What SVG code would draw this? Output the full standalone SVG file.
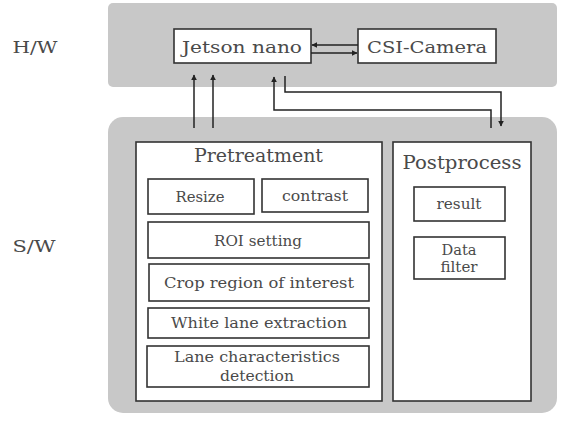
<svg xmlns="http://www.w3.org/2000/svg" width="563" height="423" viewBox="0 0 563 423">
<defs>
<style>
.bg{fill:#c8c8c8;stroke:none}
.box{fill:#ffffff;stroke:#333333;stroke-width:1.6}
.t{font-family:"DejaVu Serif","Liberation Serif",serif;fill:#4a4a4a;text-anchor:middle}
.lbl{font-size:17px}
.big{font-size:18px}
.sm{font-size:14px}
.ln{fill:none;stroke:#222222;stroke-width:1.5}
</style>
<marker id="ah" viewBox="0 0 10 10" refX="9" refY="5" markerWidth="6" markerHeight="6" markerUnits="userSpaceOnUse" orient="auto">
<path d="M0,0 L10,5 L0,10 z" fill="#222222"/>
</marker>
</defs>
<rect width="563" height="423" fill="#ffffff"/>
<text class="t lbl" x="35" y="53" textLength="45" lengthAdjust="spacingAndGlyphs">H/W</text>
<text class="t lbl" x="34" y="252" textLength="43" lengthAdjust="spacingAndGlyphs">S/W</text>
<g id="hw">
<rect class="bg" x="108" y="3" width="449" height="84" rx="5"/>
</g>
<g id="sw">
<rect class="bg" x="108" y="117" width="449" height="296" rx="15"/>
</g>
<g id="jetson">
<rect class="box" x="174" y="29" width="137" height="34"/>
<text class="t lbl" x="242" y="53" textLength="120" lengthAdjust="spacingAndGlyphs">Jetson nano</text>
</g>
<g id="csi">
<rect class="box" x="358" y="29" width="138" height="34"/>
<text class="t lbl" x="427" y="53" textLength="120" lengthAdjust="spacingAndGlyphs">CSI-Camera</text>
</g>
<g id="pretreatment">
<rect class="box" x="136" y="142" width="246" height="259"/>
<text class="t big" x="258.5" y="162" textLength="129" lengthAdjust="spacingAndGlyphs">Pretreatment</text>
</g>
<g id="resize">
<rect class="box" x="148" y="179" width="106" height="35"/>
<text class="t sm" x="200" y="202" textLength="49" lengthAdjust="spacingAndGlyphs">Resize</text>
</g>
<g id="contrast">
<rect class="box" x="262" y="179" width="106" height="33"/>
<text class="t sm" x="315" y="201" textLength="66" lengthAdjust="spacingAndGlyphs">contrast</text>
</g>
<g id="roi">
<rect class="box" x="148" y="222" width="221" height="36"/>
<text class="t sm" x="258" y="246" textLength="88" lengthAdjust="spacingAndGlyphs">ROI setting</text>
</g>
<g id="crop">
<rect class="box" x="149" y="264" width="220" height="37"/>
<text class="t sm" x="259" y="288" textLength="190" lengthAdjust="spacingAndGlyphs">Crop region of interest</text>
</g>
<g id="white">
<rect class="box" x="148" y="308" width="221" height="30"/>
<text class="t sm" x="259" y="328" textLength="176" lengthAdjust="spacingAndGlyphs">White lane extraction</text>
</g>
<g id="lanechar">
<rect class="box" x="147" y="346" width="222" height="41"/>
<text class="t sm" x="257" y="362" textLength="166" lengthAdjust="spacingAndGlyphs">Lane characteristics</text>
<text class="t sm" x="257" y="381" textLength="74" lengthAdjust="spacingAndGlyphs">detection</text>
</g>
<g id="postprocess">
<rect class="box" x="393" y="142" width="138" height="259"/>
<text class="t big" x="462" y="169" textLength="119" lengthAdjust="spacingAndGlyphs">Postprocess</text>
</g>
<g id="result">
<rect class="box" x="414" y="187" width="91" height="34"/>
<text class="t sm" x="459" y="209" textLength="45" lengthAdjust="spacingAndGlyphs">result</text>
</g>
<g id="datafilter">
<rect class="box" x="414" y="237" width="91" height="42"/>
<text class="t sm" x="459" y="255" textLength="35" lengthAdjust="spacingAndGlyphs">Data</text>
<text class="t sm" x="459" y="272" textLength="37" lengthAdjust="spacingAndGlyphs">filter</text>
</g>
<g id="connectors">
<path class="ln" d="M358,45 L312,45" marker-end="url(#ah)"/>
<path class="ln" d="M311,53 L357,53" marker-end="url(#ah)"/>
<path class="ln" d="M194,128 L194,75" marker-end="url(#ah)"/>
<path class="ln" d="M213,128 L213,75" marker-end="url(#ah)"/>
<path class="ln" d="M491,128 L491,110 L274,110 L274,77" marker-end="url(#ah)"/>
<path class="ln" d="M285,76 L285,92 L501,92 L501,126" marker-end="url(#ah)"/>
</g>
</svg>
